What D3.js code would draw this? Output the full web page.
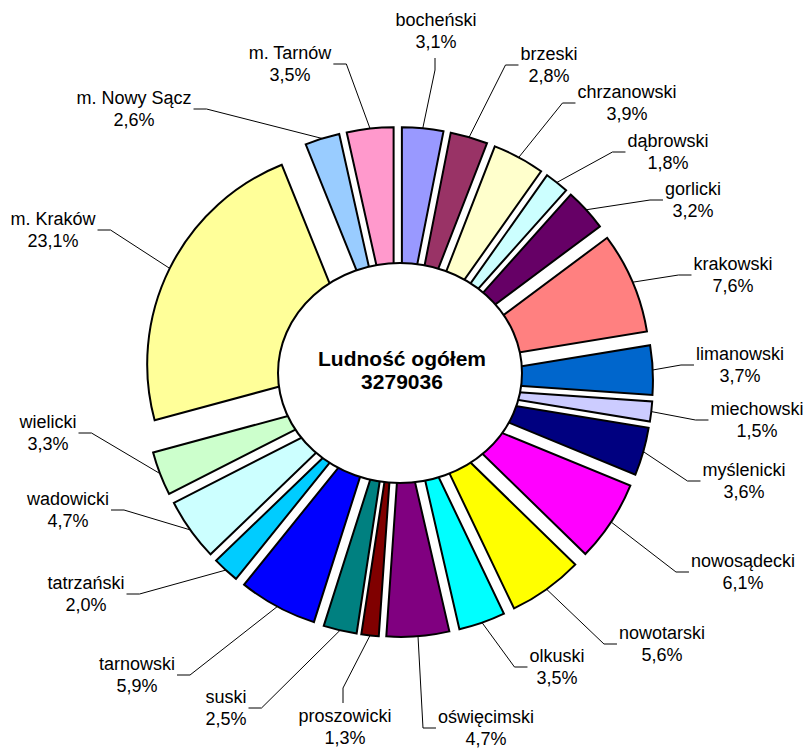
<!DOCTYPE html>
<html>
<head>
<meta charset="utf-8">
<script src="https://cdn.jsdelivr.net/npm/d3@7/dist/d3.min.js"></script>
<style>
  html, body { margin: 0; padding: 0; background: #fff; }
  svg { display: block; }
  text { font-family: "Liberation Sans", Arial, sans-serif; fill: #000; }
</style>
</head>
<body>
<svg id="chart" width="808" height="749"></svg>
<script>
// ---- data ----
const categories = ["bocheński", "brzeski", "chrzanowski", "dąbrowski", "gorlicki", "krakowski",
  "limanowski", "miechowski", "myślenicki", "nowosądecki", "nowotarski", "olkuski",
  "oświęcimski", "proszowicki", "suski", "tarnowski", "tatrzański", "wadowicki", "wielicki",
  "m. Kraków", "m. Nowy Sącz", "m. Tarnów"];
const shares = [3.1, 2.8, 3.9, 1.8, 3.2, 7.6, 3.7, 1.5, 3.6, 6.1, 5.6, 3.5, 4.7, 1.3, 2.5, 5.9,
  2.0, 4.7, 3.3, 23.1, 2.6, 3.5];
const colors = ["#9999FF", "#993366", "#FFFFCC", "#CCFFFF", "#660066", "#FF8080", "#0066CC",
  "#CCCCFF", "#000080", "#FF00FF", "#FFFF00", "#00FFFF", "#800080", "#800000", "#008080",
  "#0000FF", "#00CCFF", "#CCFFFF", "#CCFFCC", "#FFFF99", "#99CCFF", "#FF99CC"];
const titleLabel = "Ludność ogółem";
const totalPopulation = 3279036;

// ---- layout ----
const svg = d3.select("#chart");
const cx = 398, cy = 382, R = 215, r0 = 40, explode = 40;

// label layout: [text centre x, first baseline y, side where the leader attaches]
const labelLayout = [
  [436, 26, "bottom"], [549, 60, "left"], [627, 98, "left"], [668, 147, "left"],
  [693, 195, "left"], [733, 270, "left"], [740, 360, "left"], [757, 415, "left"],
  [744, 476, "left"], [743, 567, "left"], [662, 639, "left"], [557, 662, "left"],
  [486, 723, "left"], [345, 722, "top"], [226, 703, "right"], [137, 670, "right"],
  [86, 589, "right"], [68, 505, "right"], [48, 428, "right"], [53, 225, "right"],
  [134, 104, "right"], [290, 59, "right"]
];

const pie = d3.pie().sort(null).value(d => d).startAngle(0).endAngle(2 * Math.PI);
const arcs = pie(shares);
const arc = d3.arc().innerRadius(r0).outerRadius(R);

const g = svg.append("g").attr("transform", `translate(${cx},${cy})`);
g.selectAll("path.slice").data(arcs).enter().append("path")
  .attr("class", "slice")
  .attr("d", arc)
  .attr("transform", d => {
    const m = (d.startAngle + d.endAngle) / 2;
    return `translate(${explode * Math.sin(m)},${-explode * Math.cos(m)})`;
  })
  .attr("fill", (d, i) => colors[i])
  .attr("stroke", "#000")
  .attr("stroke-width", 2)
  .attr("stroke-linejoin", "miter");

// centre oval
svg.append("ellipse")
  .attr("cx", 400).attr("cy", 373).attr("rx", 122).attr("ry", 110)
  .attr("fill", "#fff").attr("stroke", "#000").attr("stroke-width", 2);

svg.append("text").attr("x", 402).attr("y", 366).attr("text-anchor", "middle")
  .style("font-size", "21px").style("font-weight", "bold").text(titleLabel);
svg.append("text").attr("x", 402).attr("y", 389).attr("text-anchor", "middle")
  .style("font-size", "21px").style("font-weight", "bold").text(String(totalPopulation));

// labels + leader lines
const fmt = v => v.toFixed(1).replace(".", ",") + "%";
const labels = svg.append("g");
const leaders = svg.append("g");
arcs.forEach((d, i) => {
  const [tx, ty, side] = labelLayout[i];
  const t1 = labels.append("text").attr("x", tx).attr("y", ty).attr("text-anchor", "middle")
    .style("font-size", "18px").text(categories[i]);
  labels.append("text").attr("x", tx).attr("y", ty + 22).attr("text-anchor", "middle")
    .style("font-size", "18px").text(fmt(d.data));
  const w = t1.node().getComputedTextLength();
  const m = (d.startAngle + d.endAngle) / 2;
  const sx = cx + (R + explode) * Math.sin(m);
  const sy = cy - (R + explode) * Math.cos(m);
  let pts;
  const my = ty + 5;
  if (side === "left") {
    const ex = tx - w / 2 - 2;
    pts = [[ex, my], [ex - 13, my], [sx, sy]];
  } else if (side === "right") {
    const ex = tx + w / 2 + 2;
    pts = [[ex, my], [ex + 13, my], [sx, sy]];
  } else if (side === "bottom") {
    pts = [[tx - 1, ty + 32], [tx - 1, ty + 44], [sx, sy]];
  } else {
    pts = [[tx - 2, ty - 19], [tx - 2, ty - 34], [sx, sy]];
  }
  leaders.append("path")
    .attr("d", d3.line()(pts))
    .attr("fill", "none").attr("stroke", "#000").attr("stroke-width", 1);
});
</script>
</body>
</html>
